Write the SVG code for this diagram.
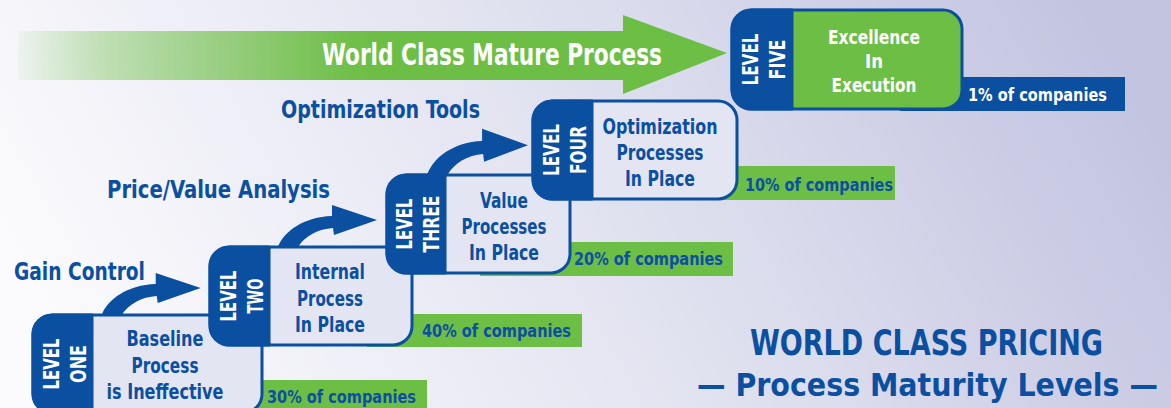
<svg xmlns="http://www.w3.org/2000/svg" width="1171" height="408" viewBox="0 0 1171 408">
  <defs>
    <linearGradient id="bg" x1="0" y1="0.6" x2="1" y2="0.4">
      <stop offset="0" stop-color="#fbfbfd"/>
      <stop offset="0.5" stop-color="#e2e3f0"/>
      <stop offset="1" stop-color="#c3c4e0"/>
    </linearGradient>
    <linearGradient id="fade" gradientUnits="userSpaceOnUse" x1="18" y1="0" x2="727" y2="0">
      <stop offset="0" stop-color="#6dbe45" stop-opacity="0.06"/>
      <stop offset="0.12" stop-color="#6dbe45" stop-opacity="0.38"/>
      <stop offset="0.3" stop-color="#6dbe45" stop-opacity="0.68"/>
      <stop offset="0.44" stop-color="#6dbe45" stop-opacity="0.93"/>
      <stop offset="0.5" stop-color="#6dbe45" stop-opacity="1"/>
    </linearGradient>
    <!-- curved step arrow, origin at the outer foot of the shaft -->
    <path id="bend" d="M0,3 L0,0 C6,-16 26,-30 54,-31 L54,-42 L99,-27 L56,-12 L55,-19 C40,-18 27,-11 20,0 L20,3 Z"/>
    <style>
      text { font-family: "Liberation Sans Narrow", "DejaVu Sans Condensed", "Liberation Sans", sans-serif; font-weight: bold; }
      .body { fill: #e3e5f3; stroke: #0b4fa1; stroke-width: 3; }
      .body.top { fill: #6dbe45; }
      .band { fill: #0b4fa1; stroke: #0b4fa1; stroke-width: 3; stroke-linejoin: round; }
      .strip { fill: #6dbe45; }
      .strip.top { fill: #0b4fa1; }
      .lvl { fill: #ffffff; font-size: 21px; text-anchor: middle; }
      .desc { fill: #0b4fa1; font-size: 22px; text-anchor: middle; }
      .desc.top { fill: #ffffff; font-size: 20px; }
      .pct { fill: #0b4fa1; font-size: 18.5px; }
      .pct.top { fill: #ffffff; }
      .tag { fill: #0b4fa1; font-size: 25px; }
      .arrow { fill: #0b4fa1; }
      .title { fill: #0b4fa1; text-anchor: middle; }
    </style>
  </defs>

  <rect x="0" y="0" width="1171" height="408" fill="url(#bg)"/>

  <!-- connectors -->
  <g id="connectors">
    <polygon points="18,31 623,31 623,15 727,53 623,94 623,80 18,80" fill="url(#fade)"/>
    <use href="#bend" class="arrow" transform="translate(101.7,315)"/>
    <use href="#bend" class="arrow" transform="translate(278,247)"/>
    <use href="#bend" class="arrow" transform="translate(427,175) scale(1.02,1.1)"/>
  </g>

  <text class="tag" x="14" y="280" textLength="131" lengthAdjust="spacingAndGlyphs">Gain Control</text>
  <text class="tag" x="107" y="198" textLength="223" lengthAdjust="spacingAndGlyphs">Price/Value Analysis</text>
  <text class="tag" x="281" y="118" textLength="199" lengthAdjust="spacingAndGlyphs">Optimization Tools</text>
  <text x="322" y="65" fill="#ffffff" font-size="30" textLength="340" lengthAdjust="spacingAndGlyphs">World Class Mature Process</text>

  <!-- level one -->
  <g id="level-one">
    <rect class="strip" x="215" y="380" width="212" height="34"/>
    <text class="pct" x="267" y="403" textLength="149" lengthAdjust="spacingAndGlyphs">30% of companies</text>
    <rect class="body" x="33" y="315" width="229" height="98" rx="19"/>
    <path class="band" d="M53,315 H92 V413 H53 A20,20 0 0 1 33,393 V335 A20,20 0 0 1 53,315 Z"/>
    <g transform="translate(62.5,364) rotate(-90)">
      <text class="lvl" x="0" y="-4" textLength="51" lengthAdjust="spacingAndGlyphs">LEVEL</text>
      <text class="lvl" x="0" y="23" textLength="38" lengthAdjust="spacingAndGlyphs">ONE</text>
    </g>
    <text class="desc" x="165" y="346" textLength="77" lengthAdjust="spacingAndGlyphs">Baseline</text>
    <text class="desc" x="165" y="372.5" textLength="67" lengthAdjust="spacingAndGlyphs">Process</text>
    <text class="desc" x="165" y="398.5" textLength="117" lengthAdjust="spacingAndGlyphs">is Ineffective</text>
  </g>

  <!-- level two -->
  <g id="level-two">
    <rect class="strip" x="367" y="314" width="215" height="33"/>
    <text class="pct" x="422" y="336.5" textLength="149" lengthAdjust="spacingAndGlyphs">40% of companies</text>
    <rect class="body" x="210" y="247" width="202" height="98" rx="19"/>
    <path class="band" d="M230,247 H269 V345 H230 A20,20 0 0 1 210,325 V267 A20,20 0 0 1 230,247 Z"/>
    <g transform="translate(239.5,296) rotate(-90)">
      <text class="lvl" x="0" y="-4" textLength="51" lengthAdjust="spacingAndGlyphs">LEVEL</text>
      <text class="lvl" x="0" y="23" textLength="35" lengthAdjust="spacingAndGlyphs">TWO</text>
    </g>
    <text class="desc" x="330" y="279" textLength="70" lengthAdjust="spacingAndGlyphs">Internal</text>
    <text class="desc" x="330" y="305.5" textLength="66" lengthAdjust="spacingAndGlyphs">Process</text>
    <text class="desc" x="330" y="331.5" textLength="70" lengthAdjust="spacingAndGlyphs">In Place</text>
  </g>

  <!-- level three -->
  <g id="level-three">
    <rect class="strip" x="480" y="242" width="253" height="34"/>
    <text class="pct" x="574" y="265" textLength="149" lengthAdjust="spacingAndGlyphs">20% of companies</text>
    <rect class="body" x="387" y="175" width="183" height="98" rx="19"/>
    <path class="band" d="M407,175 H445 V273 H407 A20,20 0 0 1 387,253 V195 A20,20 0 0 1 407,175 Z"/>
    <g transform="translate(416,224) rotate(-90)">
      <text class="lvl" x="0" y="-4" textLength="51" lengthAdjust="spacingAndGlyphs">LEVEL</text>
      <text class="lvl" x="0" y="23" textLength="57" lengthAdjust="spacingAndGlyphs">THREE</text>
    </g>
    <text class="desc" x="504" y="207.5" textLength="48" lengthAdjust="spacingAndGlyphs">Value</text>
    <text class="desc" x="504" y="234" textLength="85" lengthAdjust="spacingAndGlyphs">Processes</text>
    <text class="desc" x="504" y="260" textLength="70" lengthAdjust="spacingAndGlyphs">In Place</text>
  </g>

  <!-- level four -->
  <g id="level-four">
    <rect class="strip" x="700" y="166" width="195" height="34"/>
    <text class="pct" x="745" y="191" textLength="148" lengthAdjust="spacingAndGlyphs">10% of companies</text>
    <rect class="body" x="533" y="101" width="204" height="98" rx="19"/>
    <path class="band" d="M553,101 H592 V199 H553 A20,20 0 0 1 533,179 V121 A20,20 0 0 1 553,101 Z"/>
    <g transform="translate(562.5,150) rotate(-90)">
      <text class="lvl" x="0" y="-4" textLength="52" lengthAdjust="spacingAndGlyphs">LEVEL</text>
      <text class="lvl" x="0" y="23" textLength="48" lengthAdjust="spacingAndGlyphs">FOUR</text>
    </g>
    <text class="desc" x="660" y="133.5" textLength="115" lengthAdjust="spacingAndGlyphs">Optimization</text>
    <text class="desc" x="660" y="160" textLength="87" lengthAdjust="spacingAndGlyphs">Processes</text>
    <text class="desc" x="660" y="186" textLength="70" lengthAdjust="spacingAndGlyphs">In Place</text>
  </g>

  <!-- level five -->
  <g id="level-five">
    <rect class="strip top" x="900" y="77" width="225" height="34"/>
    <text class="pct top" x="968" y="101" textLength="139" lengthAdjust="spacingAndGlyphs">1% of companies</text>
    <rect class="body top" x="732" y="10" width="230" height="99" rx="19"/>
    <path class="band" d="M752,10 H792 V109 H752 A20,20 0 0 1 732,89 V30 A20,20 0 0 1 752,10 Z"/>
    <g transform="translate(762,59.5) rotate(-90)">
      <text class="lvl" x="0" y="-4" textLength="52" lengthAdjust="spacingAndGlyphs">LEVEL</text>
      <text class="lvl" x="0" y="23" textLength="40" lengthAdjust="spacingAndGlyphs">FIVE</text>
    </g>
    <text class="desc top" x="874" y="44" textLength="92" lengthAdjust="spacingAndGlyphs">Excellence</text>
    <text class="desc top" x="874" y="68" textLength="18" lengthAdjust="spacingAndGlyphs">In</text>
    <text class="desc top" x="874" y="91.5" textLength="85" lengthAdjust="spacingAndGlyphs">Execution</text>
  </g>

  <!-- caption -->
  <g id="caption">
    <text class="title" x="926.5" y="355" font-size="36" textLength="353" lengthAdjust="spacingAndGlyphs">WORLD CLASS PRICING</text>
    <text class="title" x="927.5" y="396" font-size="31.5" textLength="461" lengthAdjust="spacingAndGlyphs">— Process Maturity Levels —</text>
  </g>
</svg>
